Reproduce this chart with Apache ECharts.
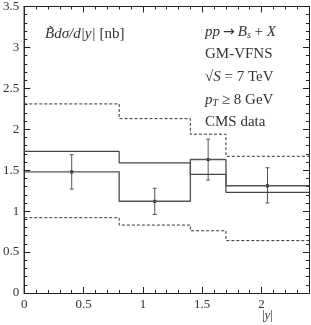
<!DOCTYPE html>
<html><head><meta charset="utf-8">
<script src="https://cdn.jsdelivr.net/npm/echarts@6/dist/echarts.min.js"></script>
<style>html,body{margin:0;padding:0;background:#fff}#c{width:311px;height:325px}</style>
</head><body><div id="c"></div>
<script>
const binEdges = [0, 0.8, 1.4, 1.7, 2.4];
const upperBand = [2.31, 2.13, 1.94, 1.67];
const lowerBand = [0.92, 0.83, 0.76, 0.64];
const centralTheory = [1.73, 1.59, 1.45, 1.23];
const dataHist = [1.48, 1.12, 1.63, 1.31];
const pointX = [0.4, 1.1, 1.55, 2.05];
const pointY = [1.48, 1.12, 1.63, 1.31];
const errLow = [1.27, 0.96, 1.38, 1.10];
const errHigh = [1.69, 1.28, 1.88, 1.53];
const xTickLabels = ['0', '0.5', '1', '1.5', '2'];
const yTickLabels = ['0', '0.5', '1', '1.5', '2', '2.5', '3', '3.5'];

const FONT = 'Liberation Serif';
const TXT = '#333';
const FS = 15;
function stepData(vals) {
  const d = vals.map((v, i) => [binEdges[i], v]);
  d.push([binEdges[binEdges.length - 1], vals[vals.length - 1]]);
  return d;
}
function fmtLabel(list, step) {
  return function (v) { const i = Math.round(v / step); return list[i] !== undefined ? list[i] : ''; };
}
const axisLine = { show: true, onZero: false, lineStyle: { color: '#222', width: 1 } };
function xAx(pos, major, labels) {
  return {
    type: 'value', min: 0, max: 2.4, interval: major ? 0.5 : 0.1, position: pos,
    axisLine: axisLine, splitLine: { show: false },
    axisTick: { show: true, inside: true, length: major ? 6 : 3, lineStyle: { color: '#222' } },
    axisLabel: labels ? { show: true, margin: 5, fontFamily: FONT, fontSize: 13, color: TXT, formatter: fmtLabel(xTickLabels, 0.5), showMaxLabel: false } : { show: false }
  };
}
function yAx(pos, major, labels) {
  return {
    type: 'value', min: 0, max: 3.5, interval: major ? 0.5 : 0.1, position: pos,
    axisLine: axisLine, splitLine: { show: false },
    axisTick: { show: true, inside: true, length: major ? 6 : 3, lineStyle: { color: '#222' } },
    axisLabel: labels ? { show: true, margin: 5, fontFamily: FONT, fontSize: 13, color: TXT, formatter: fmtLabel(yTickLabels, 0.5) } : { show: false }
  };
}
const chart = echarts.init(document.getElementById('c'), null, { renderer: 'canvas' });
function stepSeries(vals, dashed, color, width) {
  return {
    type: 'line', step: 'end', data: stepData(vals), symbol: 'none', xAxisIndex: 0, yAxisIndex: 0,
    lineStyle: { color: color, width: width, type: dashed ? [3, 2] : 'solid' }, silent: true, animation: false
  };
}
const it = { fontStyle: 'italic', fontFamily: FONT, fontSize: FS, fill: TXT };
const sub = { fontStyle: 'italic', fontFamily: FONT, fontSize: 10, fill: TXT, verticalAlign: 'bottom', lineHeight: 13 };
const arrow = { fontFamily: 'DejaVu Sans', fontSize: 14, fill: TXT, padding: [0, 3, 0, 3] };
chart.setOption({
  animation: false,
  grid: { left: 21, right: 2, top: 5, bottom: 32 },
  xAxis: [xAx('bottom', true, true), xAx('bottom', false, false), xAx('top', true, false), xAx('top', false, false)],
  yAxis: [yAx('left', true, true), yAx('left', false, false), yAx('right', true, false), yAx('right', false, false)],
  series: [
    stepSeries(upperBand, true, '#333', 1),
    stepSeries(lowerBand, true, '#333', 1),
    stepSeries(centralTheory, false, '#444', 1.2),
    stepSeries(dataHist, false, '#555', 1.4),
    {
      type: 'custom', xAxisIndex: 0, yAxisIndex: 0, silent: true,
      data: pointX.map((x, i) => [x, pointY[i], errLow[i], errHigh[i]]),
      renderItem: function (params, api) {
        const p = api.coord([api.value(0), api.value(1)]);
        const lo = api.coord([api.value(0), api.value(2)]);
        const hi = api.coord([api.value(0), api.value(3)]);
        const st = { stroke: '#555', lineWidth: 1 };
        return {
          type: 'group', children: [
            { type: 'line', shape: { x1: p[0], y1: lo[1], x2: p[0], y2: hi[1] }, style: st },
            { type: 'line', shape: { x1: p[0] - 2, y1: lo[1], x2: p[0] + 2, y2: lo[1] }, style: st },
            { type: 'line', shape: { x1: p[0] - 2, y1: hi[1], x2: p[0] + 2, y2: hi[1] }, style: st },
            { type: 'rect', shape: { x: p[0] - 1.5, y: p[1] - 1.5, width: 3, height: 3 }, style: { fill: '#222' } }
          ]
        };
      }
    }
  ],
  graphic: [
    {
      type: 'text', left: 45, top: 27,
      style: { text: '{i|B\u0303d\u03c3/d|y|} [nb]', fontFamily: FONT, fontSize: FS, fill: TXT, rich: { i: it } }
    },
    {
      type: 'text', left: 205, top: 25,
      style: { text: '{i|pp}{a|\u2192}{i|B}{s|s} + {i|X}', fontFamily: FONT, fontSize: FS, fill: TXT, rich: { i: it, s: sub, a: arrow } }
    },
    { type: 'text', left: 205, top: 47, style: { text: 'GM-VFNS', fontFamily: FONT, fontSize: FS, fill: TXT } },
    {
      type: 'text', left: 205, top: 70,
      style: { text: '\u221a{i|S} = 7 TeV', fontFamily: FONT, fontSize: FS, fill: TXT, rich: { i: it } }
    },
    {
      type: 'text', left: 205, top: 93,
      style: { text: '{i|p}{s|T} \u2265 8 GeV', fontFamily: FONT, fontSize: FS, fill: TXT, rich: { i: it, s: sub } }
    },
    { type: 'text', left: 205, top: 115, style: { text: 'CMS data', fontFamily: FONT, fontSize: FS, fill: TXT } },
    {
      type: 'text', left: 262, top: 309,
      style: { text: '|{i|y}|', fontFamily: FONT, fontSize: 13, fill: TXT, rich: { i: { fontStyle: 'italic', fontFamily: FONT, fontSize: 13, fill: TXT } } }
    }
  ]
});
</script></body></html>
